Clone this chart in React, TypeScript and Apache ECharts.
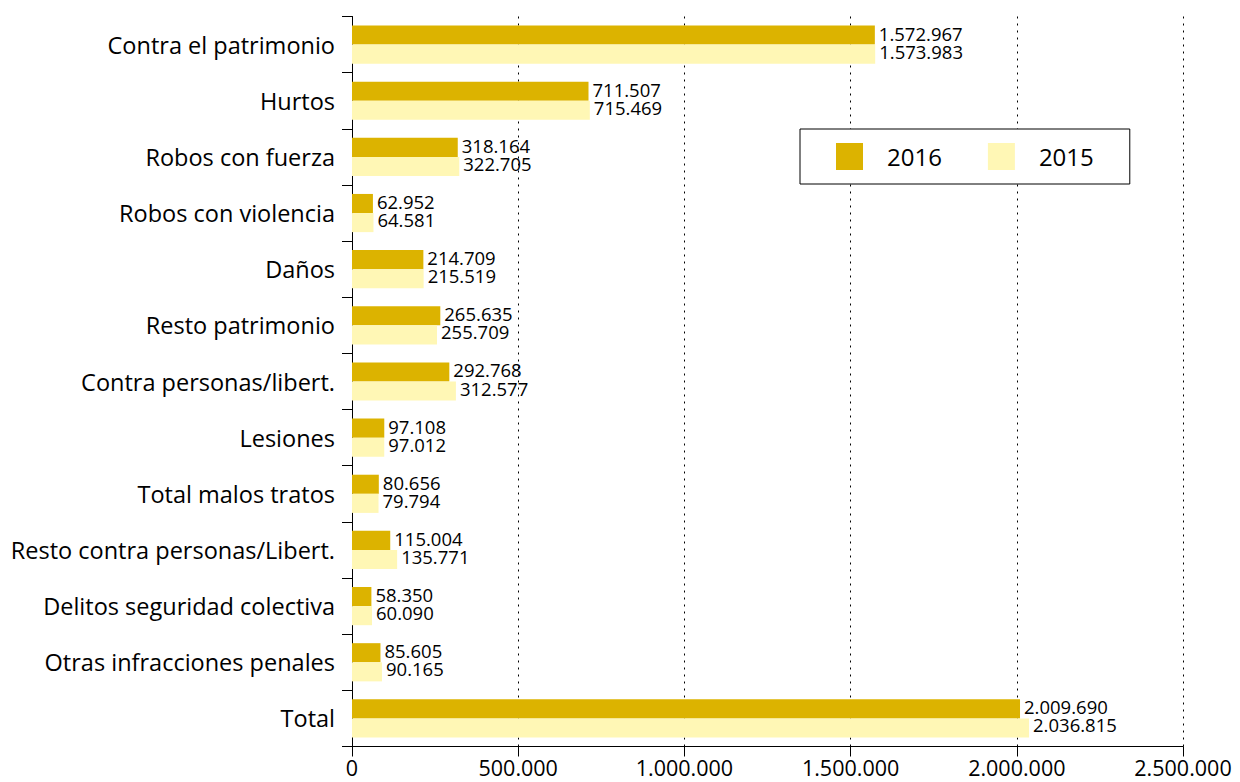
import React, { useEffect, useRef } from "react";
import * as echarts from "echarts";

const categories = [
  "Contra el patrimonio",
  "Hurtos",
  "Robos con fuerza",
  "Robos con violencia",
  "Daños",
  "Resto patrimonio",
  "Contra personas/libert.",
  "Lesiones",
  "Total malos tratos",
  "Resto contra personas/Libert.",
  "Delitos seguridad colectiva",
  "Otras infracciones penales",
  "Total",
];
const values2016 = [1572967, 711507, 318164, 62952, 214709, 265635, 292768, 97108, 80656, 115004, 58350, 85605, 2009690];
const values2015 = [1573983, 715469, 322705, 64581, 215519, 255709, 312577, 97012, 79794, 135771, 60090, 90165, 2036815];
const seriesNames = ["2016", "2015"];
const xTicks = { min: 0, max: 2500000, interval: 500000 };

const fmt = (v: number) => String(Math.round(v)).replace(/\B(?=(\d{3})+(?!\d))/g, ".");

const FONT = "Open Sans";
const C2016 = "#DCB300";
const C2015 = "#FFF7B5";

export default function App() {
  const ref = useRef<HTMLDivElement>(null);
  useEffect(() => {
    if (!ref.current) return;
    const chart = echarts.init(ref.current, null, { renderer: "svg" });
    const mkLabel = (dy: number) => ({
      show: true,
      position: "right",
      distance: 4,
      offset: [0, dy],
      fontSize: 18.5,
      lineHeight: 17,
      color: "#000",
      fontFamily: FONT,
      formatter: (p: any) => fmt(p.value),
    });
    chart.setOption({
      animation: false,
      backgroundColor: "#fff",
      textStyle: { fontFamily: FONT },
      grid: { left: 352, right: 57, top: 16.5, bottom: 35.5, containLabel: false },
      legend: {
        data: seriesNames,
        left: 800,
        top: 129,
        orient: "horizontal",
        backgroundColor: "#fff",
        borderColor: "#000",
        borderWidth: 1,
        borderRadius: 0,
        padding: [14, 36, 14, 36],
        itemWidth: 27,
        itemHeight: 27,
        itemGap: 46,
        icon: "rect",
        textStyle: { fontSize: 24, color: "#000", fontFamily: FONT, padding: [0, 0, 0, 19] },
        selectedMode: false,
        z: 10,
      },
      xAxis: {
        type: "value",
        min: xTicks.min,
        max: xTicks.max,
        interval: xTicks.interval,
        axisLine: { show: true, lineStyle: { color: "#000", width: 1 } },
        axisTick: { show: true, length: 10, lineStyle: { color: "#000" } },
        axisLabel: { fontSize: 21.5, lineHeight: 21, color: "#000", fontFamily: FONT, margin: 10, formatter: (v: number) => fmt(v) },
        splitLine: { show: true, lineStyle: { color: "#000", type: [2, 5], width: 1 } },
      },
      yAxis: {
        type: "category",
        data: categories,
        inverse: true,
        axisLine: { show: true, lineStyle: { color: "#000", width: 1 } },
        axisTick: { show: true, length: 10, lineStyle: { color: "#000" } },
        axisLabel: { fontSize: 23.5, color: "#000", fontFamily: FONT, margin: 17 },
        splitLine: { show: false },
      },
      series: [
        {
          name: seriesNames[0],
          type: "bar",
          data: values2016,
          itemStyle: { color: C2016 },
          barGap: "0%",
          barCategoryGap: "32%",
          label: mkLabel(-2),
        },
        {
          name: seriesNames[1],
          type: "bar",
          data: values2015,
          itemStyle: { color: C2015 },
          barGap: "0%",
          barCategoryGap: "32%",
          label: mkLabel(-3),
        },
      ],
    });
    return () => chart.dispose();
  }, []);
  return <div ref={ref} style={{ width: 1240, height: 782, position: "absolute", left: 0, top: 0 }} />;
}
